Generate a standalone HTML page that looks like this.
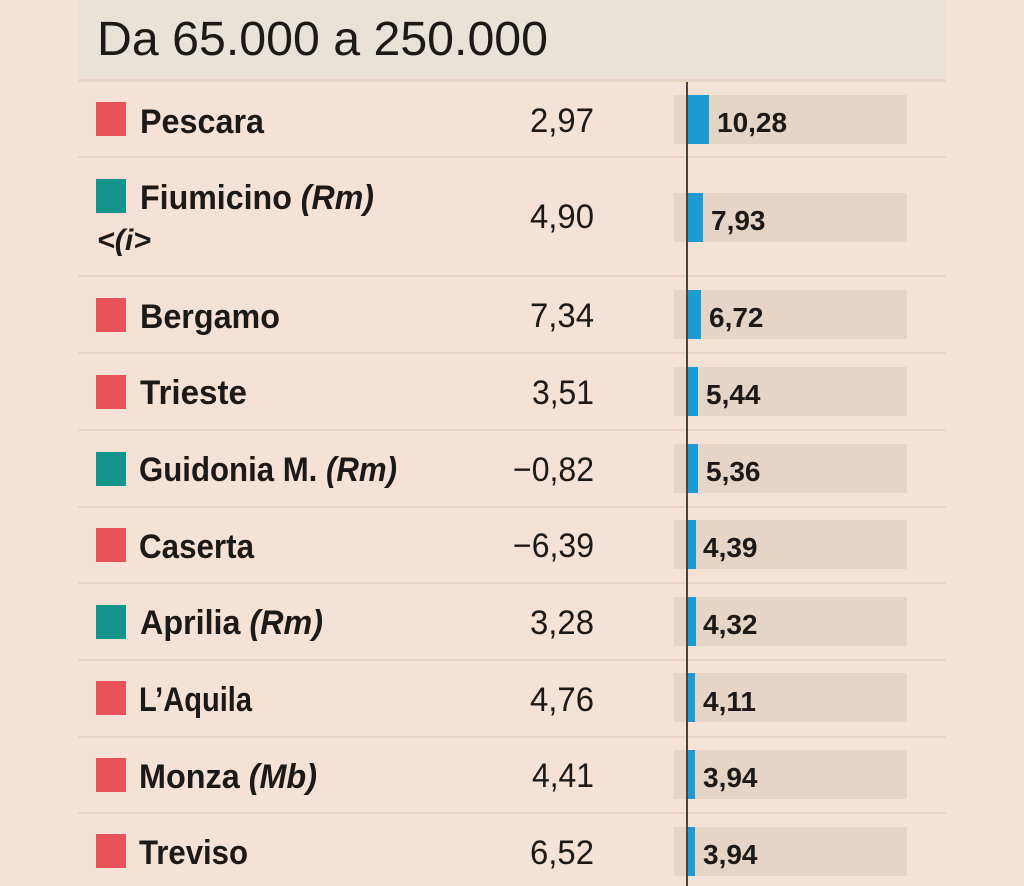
<!DOCTYPE html>
<html><head><meta charset="utf-8"><style>
html,body{margin:0;padding:0;background:#f5e2d6;}
svg{display:block;}
.t{font-family:"Liberation Sans",sans-serif;fill:#1c1a19;}
.n{font-size:34px;font-weight:bold;}
.m{font-size:34px;text-anchor:end;}
.v{font-size:28px;font-weight:bold;}
</style></head><body>
<svg width="1024" height="886" viewBox="0 0 1024 886" xmlns="http://www.w3.org/2000/svg">
<rect x="0" y="0" width="1024" height="886" fill="#f5e2d6"/>
<rect x="78" y="0" width="868" height="80" fill="#e8e2d8"/>
<text class="t" x="97" y="55" font-size="48" textLength="451" lengthAdjust="spacingAndGlyphs">Da 65.000 a 250.000</text>
<g fill="#ead4c4">
<rect x="78" y="79" width="868" height="3"/>
<rect x="78" y="156" width="868" height="2"/>
<rect x="78" y="275" width="868" height="2"/>
<rect x="78" y="352" width="868" height="2"/>
<rect x="78" y="429" width="868" height="2"/>
<rect x="78" y="506" width="868" height="2"/>
<rect x="78" y="582" width="868" height="2"/>
<rect x="78" y="659" width="868" height="2"/>
<rect x="78" y="736" width="868" height="2"/>
<rect x="78" y="812" width="868" height="2"/>
</g>
<!-- gray bars -->
<g fill="#e4d5c7">
<rect x="674" y="95" width="233" height="49"/>
<rect x="674" y="193" width="233" height="49"/>
<rect x="674" y="290" width="233" height="49"/>
<rect x="674" y="367" width="233" height="49"/>
<rect x="674" y="444" width="233" height="49"/>
<rect x="674" y="520" width="233" height="49"/>
<rect x="674" y="597" width="233" height="49"/>
<rect x="674" y="673" width="233" height="49"/>
<rect x="674" y="750" width="233" height="49"/>
<rect x="674" y="827" width="233" height="49"/>
</g>
<!-- blue bars -->
<g fill="#1b9ad3">
<rect x="686" y="95" width="23" height="49"/>
<rect x="686" y="193" width="17" height="49"/>
<rect x="686" y="290" width="15" height="49"/>
<rect x="686" y="367" width="12" height="49"/>
<rect x="686" y="444" width="12" height="49"/>
<rect x="686" y="520" width="10" height="49"/>
<rect x="686" y="597" width="10" height="49"/>
<rect x="686" y="673" width="9" height="49"/>
<rect x="686" y="750" width="9" height="49"/>
<rect x="686" y="827" width="9" height="49"/>
</g>
<rect x="686" y="82" width="2" height="804" fill="#4a423d"/>
<!-- squares -->
<g>
<rect x="96" y="102" width="30" height="34" fill="#e8525a"/>
<rect x="96" y="179" width="30" height="34" fill="#15968d"/>
<rect x="96" y="298" width="30" height="34" fill="#e8525a"/>
<rect x="96" y="375" width="30" height="34" fill="#e8525a"/>
<rect x="96" y="452" width="30" height="34" fill="#15968d"/>
<rect x="96" y="528" width="30" height="34" fill="#e8525a"/>
<rect x="96" y="605" width="30" height="34" fill="#15968d"/>
<rect x="96" y="681" width="30" height="34" fill="#e8525a"/>
<rect x="96" y="758" width="30" height="34" fill="#e8525a"/>
<rect x="96" y="834" width="30" height="34" fill="#e8525a"/>
</g>
<!-- names -->
<text class="t n" x="140" y="133" textLength="124" lengthAdjust="spacingAndGlyphs">Pescara</text>
<text class="t n" x="140" y="209" textLength="234" lengthAdjust="spacingAndGlyphs">Fiumicino <tspan font-style="italic">(Rm)</tspan></text>
<text class="t" x="97" y="250" style="font-size:30px;font-weight:bold;font-style:italic" textLength="54" lengthAdjust="spacingAndGlyphs">&lt;(i&gt;</text>
<text class="t n" x="140" y="328" textLength="140" lengthAdjust="spacingAndGlyphs">Bergamo</text>
<text class="t n" x="140" y="404" textLength="107" lengthAdjust="spacingAndGlyphs">Trieste</text>
<text class="t n" x="139" y="481" textLength="258" lengthAdjust="spacingAndGlyphs">Guidonia M. <tspan font-style="italic">(Rm)</tspan></text>
<text class="t n" x="139" y="558" textLength="115" lengthAdjust="spacingAndGlyphs">Caserta</text>
<text class="t n" x="140" y="634" textLength="183" lengthAdjust="spacingAndGlyphs">Aprilia <tspan font-style="italic">(Rm)</tspan></text>
<text class="t n" x="139" y="711" textLength="113" lengthAdjust="spacingAndGlyphs">L’Aquila</text>
<text class="t n" x="139" y="788" textLength="178" lengthAdjust="spacingAndGlyphs">Monza <tspan font-style="italic">(Mb)</tspan></text>
<text class="t n" x="139" y="864" textLength="109" lengthAdjust="spacingAndGlyphs">Treviso</text>
<!-- middle values -->
<text class="t m" x="594" y="132" textLength="64" lengthAdjust="spacingAndGlyphs">2,97</text>
<text class="t m" x="594" y="228" textLength="64" lengthAdjust="spacingAndGlyphs">4,90</text>
<text class="t m" x="594" y="327" textLength="64" lengthAdjust="spacingAndGlyphs">7,34</text>
<text class="t m" x="594" y="404" textLength="62" lengthAdjust="spacingAndGlyphs">3,51</text>
<text class="t m" x="594" y="481" textLength="81" lengthAdjust="spacingAndGlyphs">−0,82</text>
<text class="t m" x="594" y="557" textLength="81" lengthAdjust="spacingAndGlyphs">−6,39</text>
<text class="t m" x="594" y="634" textLength="64" lengthAdjust="spacingAndGlyphs">3,28</text>
<text class="t m" x="594" y="711" textLength="64" lengthAdjust="spacingAndGlyphs">4,76</text>
<text class="t m" x="594" y="787" textLength="62" lengthAdjust="spacingAndGlyphs">4,41</text>
<text class="t m" x="594" y="864" textLength="64" lengthAdjust="spacingAndGlyphs">6,52</text>
<!-- bar values -->
<text class="t v" x="717" y="132">10,28</text>
<text class="t v" x="711" y="230">7,93</text>
<text class="t v" x="709" y="327">6,72</text>
<text class="t v" x="706" y="404">5,44</text>
<text class="t v" x="706" y="481">5,36</text>
<text class="t v" x="703" y="557">4,39</text>
<text class="t v" x="703" y="634">4,32</text>
<text class="t v" x="703" y="711">4,11</text>
<text class="t v" x="703" y="787">3,94</text>
<text class="t v" x="703" y="864">3,94</text>
</svg>
</body></html>
